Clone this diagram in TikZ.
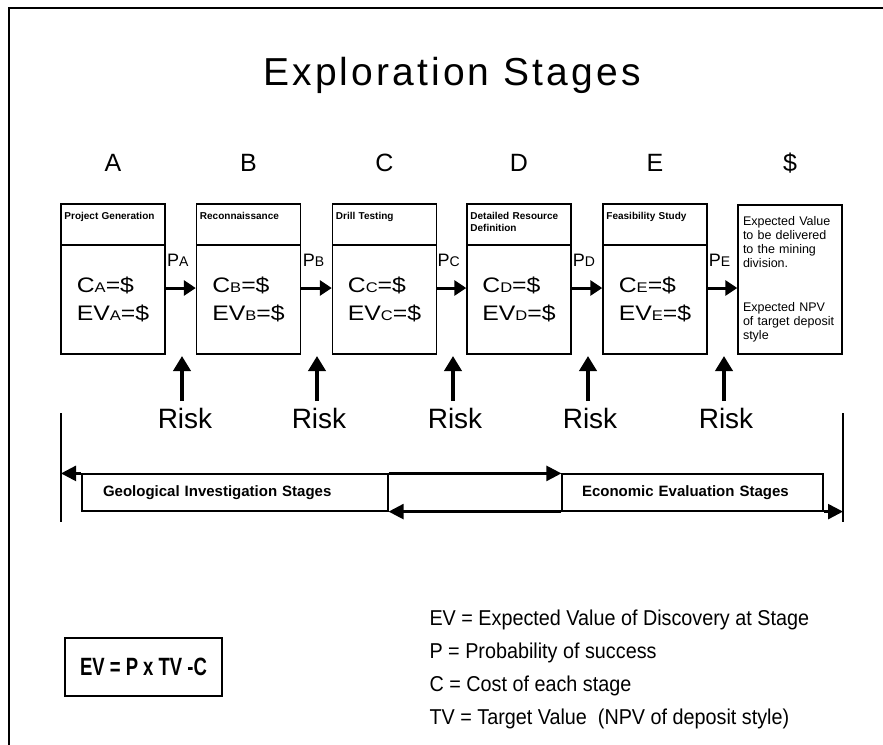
\documentclass[tikz,border=0pt]{standalone}
\usepackage{fontspec}
\setmainfont{Liberation Sans}
\newfontfamily\narrowfont[FakeStretch=0.92]{Liberation Sans}
\newfontfamily\condfont[FakeStretch=0.74]{Liberation Sans}
\newfontfamily\widefont[FakeStretch=1.18]{Liberation Sans}
\newfontfamily\spacedfont[LetterSpace=8]{Liberation Sans}
\usetikzlibrary{arrows.meta,positioning}

% small letter that sits on the baseline (C_A, P_A ...)
\newcommand{\sub}[1]{{\fontsize{14}{14}\selectfont #1}}

\begin{document}
\begin{tikzpicture}[x=1pt,y=-1pt,line join=miter,
    frame/.style={line width=2.5pt},
    hdr/.style={draw,line width=1.5pt,minimum width=104pt,minimum height=41pt,inner sep=0pt},
    hdrtxt/.style={anchor=north west,inner xsep=4pt,inner ysep=9pt,text width=96pt,align=left,
        font=\fontsize{10}{11.5}\selectfont\bfseries},
    body/.style={draw,line width=1.5pt,minimum width=104pt,minimum height=109pt,inner sep=0pt,
        align=left,font=\widefont\fontsize{21}{28}\selectfont},
    goal/.style={draw,line width=1.5pt,minimum width=104pt,minimum height=149pt,inner xsep=5pt,
        text width=94pt,align=left,font=\fontsize{12.5}{14}\selectfont},
    stg/.style={anchor=base,font=\fontsize{25}{25}\selectfont},
    risk/.style={anchor=base,font=\fontsize{28}{28}\selectfont},
    plab/.style={midway,anchor=base,yshift=22pt,xshift=-3pt,inner sep=0pt,font=\fontsize{18}{18}\selectfont},
    flow/.style={line width=3pt,-{Triangle[length=12pt,width=15pt]}},
    riskarrow/.style={line width=4.5pt,-{Triangle[length=15pt,width=17pt]}},
    band/.style={draw,line width=1.2pt,minimum height=37pt,inner ysep=0pt,align=left,
        font=\fontsize{15}{15}\selectfont\bfseries},
    bandarrow/.style={line width=2.5pt,-{Triangle[length=15pt,width=15pt]}},
    edge/.style={line width=1.5pt}]

\useasboundingbox (0,0) rectangle (883,744);
\draw[frame] (9,745) -- (9,8) -- (884,8);

% title
\node[font=\spacedfont\fontsize{39}{39}\selectfont] (ttl) at (452,75) {Exploration Stages};

% stage letters
\node[stg] (sA) at (113,171) {A};
\node[stg] (sB) at (248.5,171) {B};
\node[stg] (sC) at (384.5,171) {C};
\node[stg] (sD) at (519,171) {D};
\node[stg] (sE) at (655,171) {E};
\node[stg] (sF) at (790,171) {\$};

% stage boxes
\node[hdr, label={[hdrtxt]north west:Project Generation}] (hA) at (113,224.5) {};
\node[body] (bA) at (113,299.5) {C\sub{A}=\$\\EV\sub{A}=\$};

\node[hdr, label={[hdrtxt]north west:Reconnaissance}] (hB) at (248.5,224.5) {};
\node[body] (bB) at (248.5,299.5) {C\sub{B}=\$\\EV\sub{B}=\$};

\node[hdr, label={[hdrtxt]north west:Drill Testing}] (hC) at (384.5,224.5) {};
\node[body] (bC) at (384.5,299.5) {C\sub{C}=\$\\EV\sub{C}=\$};

\node[hdr, label={[hdrtxt]north west:Detailed Resource Definition}] (hD) at (519,224.5) {};
\node[body] (bD) at (519,299.5) {C\sub{D}=\$\\EV\sub{D}=\$};

\node[hdr, label={[hdrtxt]north west:Feasibility Study}] (hE) at (655,224.5) {};
\node[body] (bE) at (655,299.5) {C\sub{E}=\$\\EV\sub{E}=\$};

\node[goal] (bF) at (790,279.5) {Expected Value to be delivered to the mining division.\\[30pt]
    Expected NPV of target deposit style};

% probabilities
\coordinate (oA) at ([yshift=11.5pt]bA.east);
\coordinate (oB) at ([yshift=11.5pt]bB.east);
\coordinate (oC) at ([yshift=11.5pt]bC.east);
\coordinate (oD) at ([yshift=11.5pt]bD.east);
\coordinate (oE) at ([yshift=11.5pt]bE.east);
\draw[flow] (oA) -- node[plab] {P\sub{A}} (oA -| bB.west);
\draw[flow] (oB) -- node[plab] {P\sub{B}} (oB -| bC.west);
\draw[flow] (oC) -- node[plab] {P\sub{C}} (oC -| bD.west);
\draw[flow] (oD) -- node[plab] {P\sub{D}} (oD -| bE.west);
\draw[flow] (oE) -- node[plab] {P\sub{E}} (oE -| bF.west);

% risk
\node[risk] (rA) at (185,428) {Risk};
\node[risk] (rB) at (319,428) {Risk};
\node[risk] (rC) at (455,428) {Risk};
\node[risk] (rD) at (590,428) {Risk};
\node[risk] (rE) at (726,428) {Risk};
\coordinate (gA) at (182,356);
\coordinate (gB) at (317,356);
\coordinate (gC) at (453,356);
\coordinate (gD) at (588,356);
\coordinate (gE) at (724,356);
\draw[riskarrow] (gA |- 0,401) -- (gA);
\draw[riskarrow] (gB |- 0,401) -- (gB);
\draw[riskarrow] (gC |- 0,401) -- (gC);
\draw[riskarrow] (gD |- 0,401) -- (gD);
\draw[riskarrow] (gE |- 0,401) -- (gE);

% investigation / evaluation band
\coordinate (lt) at (61,413);
\coordinate (lb) at (61,522);
\coordinate (rt) at (843,413);
\coordinate (rb) at (843,522);
\draw[edge] (lt) -- (lb);
\draw[edge] (rt) -- (rb);

\node[band, inner xsep=21pt, text width=264pt] (geo) at (235,492.5) {Geological Investigation Stages};
\node[band, inner xsep=20pt, text width=221pt] (econ) at (692.5,492.5) {Economic Evaluation Stages};

\draw[bandarrow] (geo.north west) -- (lt |- geo.north);
\draw[bandarrow] (geo.north east) -- (econ.north west);
\draw[bandarrow] (econ.south west) -- (geo.south east);
\draw[bandarrow] (econ.south east) -- (rt |- econ.south);

% formula and key
\node[draw, line width=1.5pt, minimum width=157pt, minimum height=58pt,
    font=\condfont\fontsize{25}{25}\selectfont\bfseries] (ev) at (143.5,667) {EV = P x TV -C};

\node[anchor=west, align=left, font=\narrowfont\fontsize{21.5}{33}\selectfont] (key) at (426,669)
    {EV = Expected Value of Discovery at Stage\\
     P = Probability of success\\
     C = Cost of each stage\\
     TV = Target Value\ \ (NPV of deposit style)};
\end{tikzpicture}
\end{document}
